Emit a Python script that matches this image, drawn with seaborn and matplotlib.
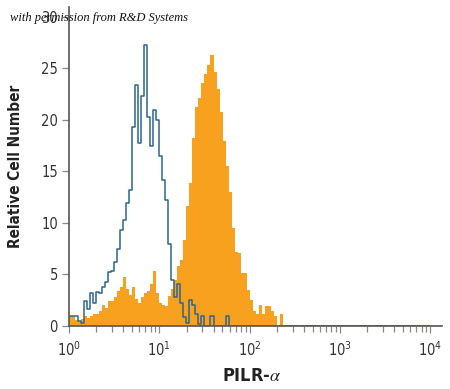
import numpy as np
import matplotlib
matplotlib.use("Agg")
import matplotlib.pyplot as plt
import matplotlib.ticker as mticker
import seaborn as sns

# channel counts, 30 channels per decade (10^0 .. 10^4)
isotype_counts = [
    1.0, 1.0, 1.0, 0.5, 0.3, 2.4, 1.6, 3.2, 2.2, 3.3,
    3.2, 3.8, 4.3, 5.2, 5.3, 6.2, 7.5, 9.3, 10.3, 11.9,
    13.2, 19.3, 23.4, 17.8, 22.3, 27.3, 20.3, 17.5, 21.0, 20.0,
    16.5, 14.2, 12.2, 8.0, 4.5, 2.8, 4.1, 2.2, 0.9, 0.3,
    2.5, 2.0, 1.2, 0.2, 1.0, 0.0, 0.0, 1.0, 0.0, 0.0,
    0.0, 0.0, 1.0, 0.0, 0.0, 0.0, 0.0, 0.0, 0.0, 0.0,
    0.0, 0.0, 0.0, 0.0, 0.0, 0.0, 0.0, 0.0, 0.0, 0.0,
    0.0, 0.0, 0.0, 0.0, 0.0, 0.0, 0.0, 0.0, 0.0, 0.0,
    0.0, 0.0, 0.0, 0.0, 0.0, 0.0, 0.0, 0.0, 0.0, 0.0,
    0.0, 0.0, 0.0, 0.0, 0.0, 0.0, 0.0, 0.0, 0.0, 0.0,
    0.0, 0.0, 0.0, 0.0, 0.0, 0.0, 0.0, 0.0, 0.0, 0.0,
    0.0, 0.0, 0.0, 0.0, 0.0, 0.0, 0.0, 0.0, 0.0, 0.0,
]
pilr_counts = [
    1.0, 1.0, 0.6, 0.5, 0.7, 1.0, 0.8, 1.0, 1.2, 1.2,
    1.5, 2.0, 1.7, 2.4, 2.4, 2.8, 3.4, 3.8, 4.8, 3.6,
    3.0, 3.8, 2.6, 2.2, 2.8, 3.2, 3.4, 4.1, 5.3, 3.2,
    2.2, 2.0, 1.9, 2.9, 3.6, 4.5, 5.8, 6.4, 8.3, 11.6,
    13.9, 18.2, 21.3, 22.1, 23.6, 24.5, 25.3, 26.3, 24.7, 23.0,
    20.8, 18.0, 15.5, 13.0, 9.5, 7.2, 7.1, 5.1, 5.1, 3.5,
    2.5, 1.5, 1.2, 2.0, 1.2, 1.9, 1.9, 1.5, 1.0, 0.0,
    1.2, 0.0, 0.0, 0.0, 0.0, 0.0, 0.0, 0.0, 0.0, 0.0,
    0.0, 0.0, 0.0, 0.0, 0.0, 0.0, 0.0, 0.0, 0.0, 0.0,
    0.0, 0.0, 0.0, 0.0, 0.0, 0.0, 0.0, 0.0, 0.0, 0.0,
    0.0, 0.0, 0.0, 0.0, 0.0, 0.0, 0.0, 0.0, 0.0, 0.0,
    0.0, 0.0, 0.0, 0.0, 0.0, 0.0, 0.0, 0.0, 0.0, 0.0,
]
x_ticks = [1, 10, 100, 1000, 10000]
x_tick_labels = ["$10^0$", "$10^1$", "$10^2$", "$10^3$", "$10^4$"]
y_ticks = [0, 5, 10, 15, 20, 25, 30]

sns.set_style("ticks")
plt.rcParams["font.family"] = ["Liberation Sans Narrow", "DejaVu Sans"]
plt.rcParams["font.stretch"] = "condensed"
plt.rcParams["mathtext.default"] = "regular"
plt.rcParams["mathtext.fontset"] = "stix"

# channel edges on the log axis
edges = np.logspace(0, 4, len(pilr_counts) + 1)
pilr_y = np.append(pilr_counts, pilr_counts[-1])
iso_y = np.append(isotype_counts, isotype_counts[-1])

fig = plt.figure(figsize=(4.5, 3.89), dpi=100)
ax = fig.add_axes([0.1533, 0.162, 0.829, 0.821])

ax.fill_between(edges, pilr_y, step="post", color="#f7a11f", linewidth=0, zorder=2)
sns.lineplot(x=edges, y=iso_y, drawstyle="steps-post", color="#2c6690",
             linewidth=1.1, estimator=None, sort=False, ax=ax, zorder=3)

ax.set_xscale("log")
ax.set_xlim(1, 10 ** 4.13)
ax.set_ylim(0, 31)
ax.set_xticks(x_ticks)
ax.xaxis.set_major_formatter(mticker.FixedFormatter(x_tick_labels))
ax.xaxis.set_minor_locator(mticker.LogLocator(base=10, subs=np.arange(2, 10)))
ax.xaxis.set_minor_formatter(mticker.NullFormatter())
ax.set_yticks(y_ticks)

sns.despine(ax=ax)
for side in ["left", "bottom"]:
    ax.spines[side].set_color("#555555")
    ax.spines[side].set_linewidth(1.2)
ax.tick_params(axis="both", which="major", length=5, width=0.9, color="#888888",
               labelsize=10.5, labelcolor="#333333", pad=3)
ax.tick_params(axis="x", which="major", pad=5)
ax.tick_params(axis="x", which="minor", length=4.5, width=0.9, color="#888888")

ax.set_ylabel("Relative Cell Number", fontsize=11, fontweight="bold", color="#222222")
ax.yaxis.set_label_coords(-0.122, 0.5)
ax.set_xlabel("PILR-$\\mathit{\\alpha}$", fontsize=13, fontweight="bold", color="#222222")
ax.xaxis.set_label_coords(0.49, -0.13)

fig.text(0.022, 0.945, "with permission from R&D Systems", fontsize=9,
         style="italic", family=["Liberation Serif", "DejaVu Serif"], color="#111111")

fig.savefig("out.png", dpi=100)
